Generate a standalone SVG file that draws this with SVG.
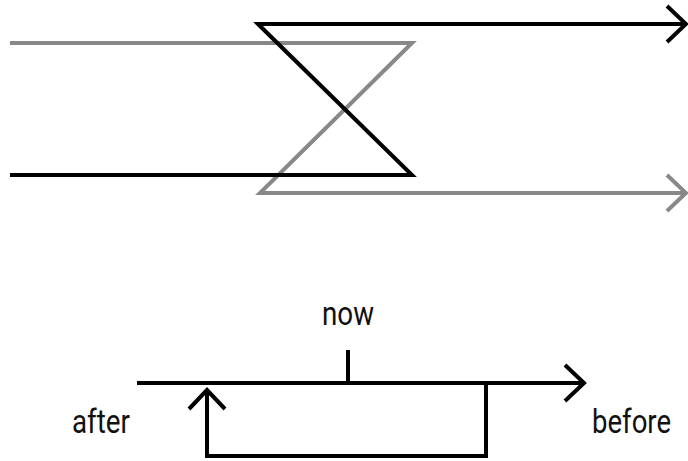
<svg xmlns="http://www.w3.org/2000/svg" width="688" height="461" viewBox="0 0 688 461">
<style>
.k{fill:none;stroke:#000;stroke-width:4}
.g{fill:none;stroke:#888;stroke-width:4}
.t{font-family:Roboto,"Liberation Sans",sans-serif;font-size:33px;fill:#111}
</style>
<defs>
<marker id="ak" markerUnits="userSpaceOnUse" markerWidth="30" markerHeight="44" viewBox="-24 -22 30 44" refX="0" refY="0" orient="auto" overflow="visible">
<path d="M-19,-18 L0,0 L-19,18" fill="none" stroke="#000" stroke-width="4"/>
</marker>
<marker id="ag" markerUnits="userSpaceOnUse" markerWidth="30" markerHeight="44" viewBox="-24 -22 30 44" refX="0" refY="0" orient="auto" overflow="visible">
<path d="M-19,-18 L0,0 L-19,18" fill="none" stroke="#888" stroke-width="4"/>
</marker>
</defs>
<g id="connectors">
<path class="g" d="M10,43 H412 L260,193 H686" marker-end="url(#ag)"/>
<path class="k" d="M10,175 H412 L258,24 H686" marker-end="url(#ak)"/>
<path class="k" d="M137,383 H584" marker-end="url(#ak)"/>
<path class="k" d="M348,350 V383"/>
<path class="k" d="M486,383 V456 H207 V390" marker-end="url(#ak)"/>
</g>
<g id="now"><text class="t" x="322" y="325" textLength="52" lengthAdjust="spacingAndGlyphs">now</text></g>
<g id="after"><text class="t" x="72" y="433" textLength="58" lengthAdjust="spacingAndGlyphs">after</text></g>
<g id="before"><text class="t" x="592" y="433" textLength="79" lengthAdjust="spacingAndGlyphs">before</text></g>
</svg>
